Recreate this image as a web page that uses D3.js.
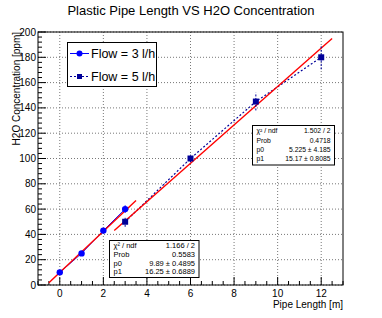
<!DOCTYPE html>
<html>
<head>
<meta charset="utf-8">
<script src="https://cdn.jsdelivr.net/npm/d3@7"></script>
<style>
  body { margin: 0; background: #fff; }
  text { font-family: "Liberation Sans", Arial, sans-serif; }
</style>
</head>
<body>
<div id="chart"></div>
<script>
// data
const flow3X = [0, 1, 2, 3];
const flow3Y = [10, 25, 43, 60];
const flow3Err = [1, 1.2, 2, 3];

const flow5X = [3, 6, 9, 12];
const flow5Y = [50, 100, 145, 180];
const flow5Err = [4, 3, 7, 9.5];

// fit results (pol1), with range
const fit3 = { p0: 9.89, p1: 16.25, from: -0.5, to: 3.5 };
const fit5 = { p0: 5.225, p1: 15.17, from: 2.5, to: 12.5 };

const stats3 = [["\u03c7\u00b2 / ndf", "1.166 / 2"], ["Prob", "0.5583"], ["p0", "9.89 \u00b1 0.4895"], ["p1", "16.25 \u00b1 0.6889"]];
const stats5 = [["\u03c7\u00b2 / ndf", "1.502 / 2"], ["Prob", "0.4718"], ["p0", "5.225 \u00b1 4.185"], ["p1", "15.17 \u00b1 0.8085"]];

const xTicks = [0, 2, 4, 6, 8, 10, 12];
const yTicks = [0, 20, 40, 60, 80, 100, 120, 140, 160, 180, 200];

const svgWidth = 382, svgHeight = 318;
const frame = { left: 38, right: 343, top: 32, bottom: 285 };

const svg = d3.select("#chart").append("svg")
    .attr("width", svgWidth)
    .attr("height", svgHeight);

const x = d3.scaleLinear().domain([-1, 13]).range([frame.left, frame.right]);
const y = d3.scaleLinear().domain([0, 200]).range([frame.bottom, frame.top]);

// grid
svg.append("g").selectAll("line")
    .data(xTicks)
    .enter().append("line")
    .attr("x1", d => x(d)).attr("x2", d => x(d))
    .attr("y1", frame.top).attr("y2", frame.bottom)
    .attr("stroke", "#777").attr("stroke-dasharray", "1,2");
svg.append("g").selectAll("line")
    .data(yTicks)
    .enter().append("line")
    .attr("y1", d => y(d)).attr("y2", d => y(d))
    .attr("x1", frame.left).attr("x2", frame.right)
    .attr("stroke", "#777").attr("stroke-dasharray", "1,2");

// ticks (inside, ROOT style)
const xMinor = d3.range(-1, 13.01, 0.5);
svg.append("g").selectAll("line")
    .data(xMinor)
    .enter().append("line")
    .attr("x1", d => x(d)).attr("x2", d => x(d))
    .attr("y1", frame.bottom)
    .attr("y2", d => frame.bottom - (xTicks.includes(d) ? 8 : 4))
    .attr("stroke", "#000");
const yMinor = d3.range(0, 200.01, 4);
svg.append("g").selectAll("line")
    .data(yMinor)
    .enter().append("line")
    .attr("y1", d => y(d)).attr("y2", d => y(d))
    .attr("x1", frame.left)
    .attr("x2", d => frame.left + (d % 20 === 0 ? 8 : 4))
    .attr("stroke", "#000");

// tick labels
svg.append("g").selectAll("text")
    .data(xTicks)
    .enter().append("text")
    .attr("x", d => x(d)).attr("y", frame.bottom + 11.5)
    .attr("text-anchor", "middle")
    .attr("font-size", 10)
    .text(d => d);
svg.append("g").selectAll("text")
    .data(yTicks)
    .enter().append("text")
    .attr("x", frame.left - 2).attr("y", d => y(d) + 3.5)
    .attr("text-anchor", "end")
    .attr("font-size", 10)
    .text(d => d);

// frame
svg.append("rect")
    .attr("x", frame.left).attr("y", frame.top)
    .attr("width", frame.right - frame.left)
    .attr("height", frame.bottom - frame.top)
    .attr("fill", "none").attr("stroke", "#000");

// titles
svg.append("text")
    .attr("x", 191).attr("y", 15)
    .attr("text-anchor", "middle")
    .attr("font-size", 13)
    .text("Plastic Pipe Length VS H2O Concentration");
svg.append("text")
    .attr("x", frame.right).attr("y", 307.5)
    .attr("text-anchor", "end")
    .attr("font-size", 10)
    .text("Pipe Length [m]");
svg.append("text")
    .attr("transform", `translate(20,${frame.top}) rotate(-90)`)
    .attr("text-anchor", "end")
    .attr("font-size", 10)
    .text("H2O Concentration [ppm]");

const line = d3.line().x(d => x(d[0])).y(d => y(d[1]));

// flow 3 l/h
const pts3 = flow3X.map((v, i) => [v, flow3Y[i], flow3Err[i]]);
svg.append("path")
    .attr("d", line(pts3))
    .attr("fill", "none").attr("stroke", "#0000ff").attr("stroke-width", 1);

// flow 5 l/h
const pts5 = flow5X.map((v, i) => [v, flow5Y[i], flow5Err[i]]);
svg.append("path")
    .attr("d", line(pts5))
    .attr("fill", "none").attr("stroke", "#000099").attr("stroke-width", 1.2)
    .attr("stroke-dasharray", "2,2");

// fits
[fit3, fit5].forEach(f => {
    svg.append("path")
        .attr("d", line([[f.from, f.p0 + f.p1 * f.from], [f.to, f.p0 + f.p1 * f.to]]))
        .attr("stroke", "#ff0000").attr("stroke-width", 1.4).attr("fill", "none");
});

// error bars + markers
svg.append("g").selectAll("line")
    .data(pts3)
    .enter().append("line")
    .attr("x1", d => x(d[0])).attr("x2", d => x(d[0]))
    .attr("y1", d => y(d[1] - d[2])).attr("y2", d => y(d[1] + d[2]))
    .attr("stroke", "#0000ff");
svg.append("g").selectAll("circle")
    .data(pts3)
    .enter().append("circle")
    .attr("cx", d => x(d[0])).attr("cy", d => y(d[1]))
    .attr("r", 3.2).attr("fill", "#0000ff");

svg.append("g").selectAll("line")
    .data(pts5)
    .enter().append("line")
    .attr("x1", d => x(d[0])).attr("x2", d => x(d[0]))
    .attr("y1", d => y(d[1] - d[2])).attr("y2", d => y(d[1] + d[2]))
    .attr("stroke", "#000099").attr("stroke-dasharray", "2,1.5");
svg.append("g").selectAll("rect")
    .data(pts5)
    .enter().append("rect")
    .attr("x", d => x(d[0]) - 3).attr("y", d => y(d[1]) - 3)
    .attr("width", 6).attr("height", 6)
    .attr("fill", "#000099");

// legend
const legend = svg.append("g");
legend.append("rect")
    .attr("x", 67.5).attr("y", 42.5).attr("width", 89).attr("height", 44)
    .attr("fill", "#fff").attr("stroke", "#000");
const legendItems = [
    { label: "Flow = 3 l/h", color: "#0000ff", dash: null, shape: "circle", yy: 53.5 },
    { label: "Flow = 5 l/h", color: "#000099", dash: "2,2", shape: "square", yy: 76.5 }
];
legendItems.forEach(d => {
    legend.append("line")
        .attr("x1", 70).attr("x2", 89).attr("y1", d.yy).attr("y2", d.yy)
        .attr("stroke", d.color).attr("stroke-dasharray", d.dash);
    if (d.shape === "circle") {
        legend.append("circle").attr("cx", 79.5).attr("cy", d.yy).attr("r", 3).attr("fill", d.color);
    } else {
        legend.append("rect").attr("x", 77).attr("y", d.yy - 2.5).attr("width", 5).attr("height", 5).attr("fill", d.color);
    }
    legend.append("text")
        .attr("x", 91).attr("y", d.yy + 4.5)
        .attr("font-size", 12.5)
        .text(d.label);
});

// stat boxes
function statBox(rows, bx, by, bw, bh, fs, step) {
    const g = svg.append("g");
    g.append("rect")
        .attr("x", bx).attr("y", by).attr("width", bw).attr("height", bh)
        .attr("fill", "#fff").attr("stroke", "#000");
    rows.forEach((r, i) => {
        const ty = by + step * 0.5 + step * i + fs * 0.35 + 1;
        g.append("text").attr("x", bx + 4).attr("y", ty)
            .attr("font-size", fs).text(r[0]);
        g.append("text").attr("x", bx + bw - 4).attr("y", ty)
            .attr("text-anchor", "end")
            .attr("font-size", fs).text(r[1]);
    });
}
statBox(stats3, 109.5, 240.5, 89.5, 37, 7.5, 8.6);
statBox(stats5, 252.5, 125.5, 82, 39.5, 6.8, 9.2);
</script>
</body>
</html>
